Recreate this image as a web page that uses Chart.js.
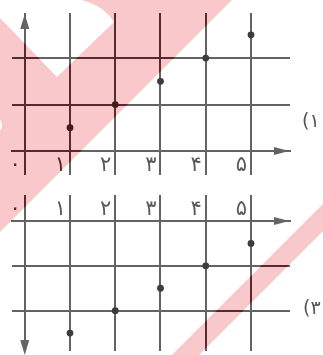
<!DOCTYPE html>
<html>
<head>
<meta charset="utf-8">
<script src="https://cdn.jsdelivr.net/npm/chart.js"></script>
<style>
  body { margin: 0; background: #fff; }
  #wrap { position: relative; width: 323px; height: 355px; overflow: hidden; }
  canvas { position: absolute; left: 0; }
  .lbl { position: absolute; font: 19px "DejaVu Sans"; color: #555; white-space: nowrap; }
</style>
</head>
<body>
<div id="wrap">
  <canvas id="chart1" width="323" height="178" style="top:0"></canvas>
  <canvas id="chart2" width="323" height="177" style="top:178px"></canvas>
  <div class="lbl" dir="rtl" style="left:302px;top:109px">۱)</div>
  <div class="lbl" dir="rtl" style="left:303px;top:296px">۳)</div>
</div>
<script>
// data
var xValues = [1, 2, 3, 4, 5];
var yValuesTop = [0.5, 1, 1.5, 2, 2.5];
var yValuesBottom = [-2.5, -2, -1.5, -1, -0.5];
var xTicks = [0, 1, 2, 3, 4, 5];
var xTickLabels = ['۰', '۱', '۲', '۳', '۴', '۵'];
var yTicksTop = [1, 2];
var yTicksBottom = [-1, -2];

var LINE = '#636363';
var DOT = '#3c3c3c';

function toPoints(ys) {
  return xValues.map(function (x, i) { return { x: x, y: ys[i] }; });
}

// pink watermark, page coords
function watermarkPath(ctx) {
  ctx.beginPath();
  ctx.moveTo(0, 0); ctx.lineTo(232, 0); ctx.lineTo(0, 232); ctx.closePath();
  ctx.moveTo(0, 0); ctx.lineTo(82, 0); ctx.quadraticCurveTo(104, 6, 114, 22);
  ctx.lineTo(57, 77); ctx.lineTo(0, 18); ctx.closePath();
  ctx.moveTo(2, 125); ctx.ellipse(-7, 125, 9, 9, 0, 0, Math.PI * 2);
  ctx.moveTo(527, 0); ctx.lineTo(554, 0); ctx.lineTo(0, 554); ctx.lineTo(0, 527); ctx.closePath();
}

function arrow(ctx, x, y, dir) {
  ctx.beginPath();
  ctx.moveTo(x, y);
  if (dir === 'up') { ctx.lineTo(x - 4.5, y + 15); ctx.lineTo(x + 4.5, y + 15); }
  if (dir === 'down') { ctx.lineTo(x - 4.5, y - 15); ctx.lineTo(x + 4.5, y - 15); }
  if (dir === 'right') { ctx.lineTo(x - 15, y - 4); ctx.lineTo(x - 15, y + 4); }
  ctx.closePath();
  ctx.fill();
}

var decor = {
  id: 'decor',
  afterDraw: function (chart, args, opts) {
    var ctx = chart.ctx, a = chart.chartArea;
    var x0 = chart.scales.x.getPixelForValue(0);
    var y0 = chart.scales.y.getPixelForValue(0);
    ctx.save();
    ctx.fillStyle = LINE;
    arrow(ctx, a.right - 1, y0, 'right');
    if (opts.up) arrow(ctx, x0, a.top + 1, 'up');
    else arrow(ctx, x0, chart.height, 'down');
    ctx.restore();

    ctx.save();
    ctx.translate(0, -opts.offset);
    watermarkPath(ctx);
    ctx.clip('evenodd');
    ctx.globalCompositeOperation = 'source-atop';
    ctx.fillStyle = 'rgba(75,0,8,0.58)';
    ctx.fillRect(0, 0, 323, 355);
    ctx.globalCompositeOperation = 'destination-over';
    ctx.fillStyle = '#f8c8cb';
    ctx.fillRect(0, 0, 323, 355);
    ctx.restore();
  }
};

function makeChart(id, ys, yTicks, top) {
  return new Chart(id, {
    type: 'scatter',
    data: {
      datasets: [{
        data: toPoints(ys),
        backgroundColor: DOT,
        borderWidth: 0,
        pointRadius: 3.4
      }]
    },
    options: {
      responsive: false,
      animation: false,
      devicePixelRatio: 1,
      layout: { padding: { left: 12, right: 33, top: top ? 13 : 0, bottom: 0 } },
      plugins: { legend: { display: false }, tooltip: { enabled: false }, decor: { up: top, offset: top ? 0 : 178 } },
      scales: {
        x: {
          type: 'linear',
          position: top ? 'bottom' : 'top',
          min: -0.2818,
          max: 5.862,
          afterBuildTicks: function (s) { s.ticks = xTicks.map(function (v) { return { value: v }; }); },
          afterFit: function (s) { s.height = top ? 27 : 43; },
          grid: { color: LINE, lineWidth: 2, drawTicks: true, tickLength: top ? 24 : 26 },
          border: { display: true, color: LINE, width: 2 },
          ticks: {
            align: 'end',
            labelOffset: -4,
            padding: top ? -22 : -27,
            maxRotation: 0,
            autoSkip: false,
            color: '#5a5a5a',
            font: { family: 'DejaVu Sans', size: 21 },
            callback: function (v) { return xTickLabels[xTicks.indexOf(v)]; }
          }
        },
        y: {
          type: 'linear',
          position: 'left',
          min: top ? 0 : -2.9,
          max: top ? 2.97 : 0,
          afterBuildTicks: function (s) { s.ticks = yTicks.map(function (v) { return { value: v }; }); },
          afterFit: function (s) { s.width = 0; },
          grid: { color: LINE, lineWidth: 2, drawTicks: false },
          border: { display: false },
          ticks: { display: false }
        }
      }
    },
    plugins: [decor]
  });
}

var chart1 = makeChart('chart1', yValuesTop, yTicksTop, true);
var chart2 = makeChart('chart2', yValuesBottom, yTicksBottom, false);
</script>
</body>
</html>
